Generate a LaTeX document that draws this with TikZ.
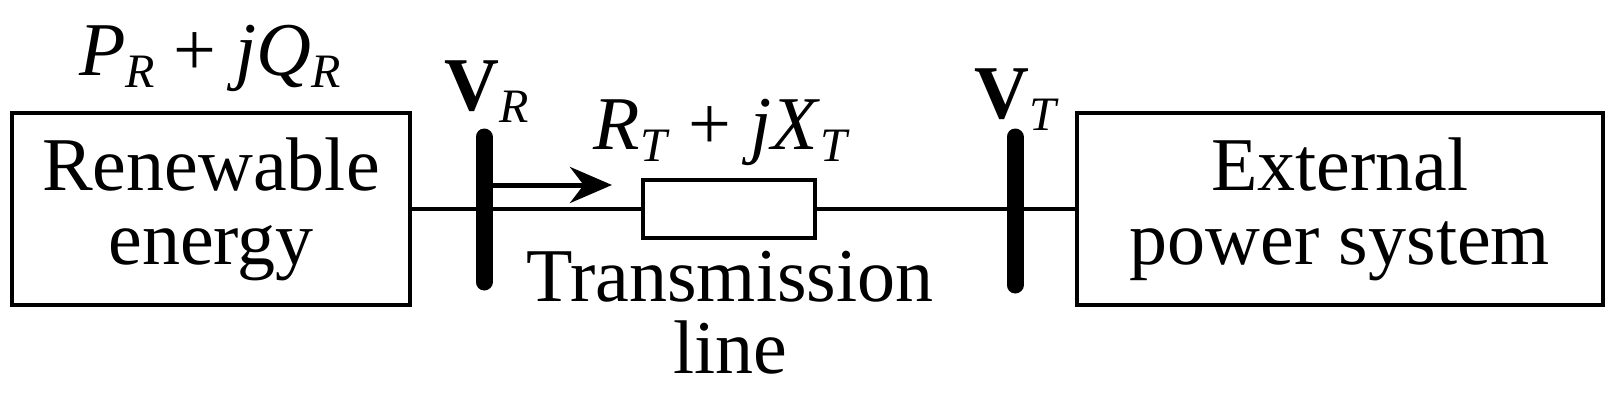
\documentclass[tikz,border=0pt]{standalone}
\usepackage{fontspec}
\setmainfont{Liberation Serif}
\usetikzlibrary{arrows.meta}
\newcommand{\bigf}{\fontsize{76}{80}\selectfont}
\newcommand{\itx}[1]{\textit{#1}}
\newcommand{\sbs}[1]{\raisebox{-0.35ex}{\fontsize{48}{52}\selectfont\textit{#1}}}
\begin{document}
\begin{tikzpicture}[x=1pt,y=-1pt,
  box/.style={draw,line width=4pt,inner sep=0pt},
  bus/.style={line width=17pt,line cap=round},
  lbl/.style={font=\bigf,inner sep=0pt,align=center}]
\useasboundingbox (0,0) rectangle (1615,404);
\node[box,minimum width=398,minimum height=192,lbl] (re) at (211,209) {Renewable\\[-6pt]energy};
\node[box,minimum width=526,minimum height=192,lbl] (ext) at (1340,209) {External\\[-6pt]power system};
\node[box,minimum width=172,minimum height=58] (res) at (729,209) {};
\coordinate (b1t) at (484,137); \coordinate (b1b) at (484,282);
\coordinate (b2t) at (1015,137); \coordinate (b2b) at (1015,285);
\draw[line width=4pt] (re.east) -- (res.west);
\draw[line width=4pt] (res.east) -- (ext.west);
\draw[bus] (b1t) -- (b1b);
\draw[bus] (b2t) -- (b2b);
\coordinate (a1) at (490,185); \coordinate (a2) at (612,185);
\draw[line width=5pt,-{Stealth[length=42pt,width=36pt]}] (a1) -- (a2);
\node[lbl] (pq) at (210,58) {\itx{P}\sbs{R} + \itx{jQ}\sbs{R}};
\node[lbl] (vr) at (487,92) {\textbf{V}\sbs{R}};
\node[lbl] (rx) at (722,132) {\itx{R}\sbs{T} + \itx{jX}\sbs{T}};
\node[lbl] (vt) at (1017,100) {\textbf{V}\sbs{T}};
\node[lbl] (tl) at (730,313) {Transmission\\[-8pt]line};
\end{tikzpicture}
\end{document}
